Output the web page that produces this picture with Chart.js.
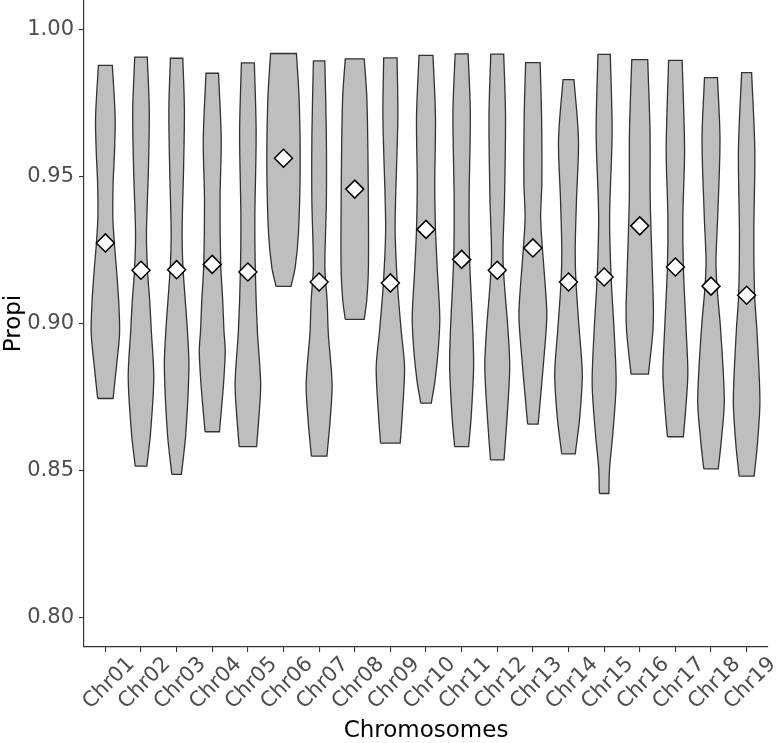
<!DOCTYPE html>
<html>
<head>
<meta charset="utf-8">
<script src="https://cdn.jsdelivr.net/npm/chart.js"></script>
<style>
  html, body { margin: 0; padding: 0; background: #ffffff; }
  #wrap { width: 776px; height: 743px; }
</style>
</head>
<body>
<div id="wrap"><canvas id="violin-chart" width="776" height="743"></canvas></div>
<script>
const chromosomes = ['Chr01', 'Chr02', 'Chr03', 'Chr04', 'Chr05', 'Chr06', 'Chr07', 'Chr08', 'Chr09', 'Chr10',
    'Chr11', 'Chr12', 'Chr13', 'Chr14', 'Chr15', 'Chr16', 'Chr17', 'Chr18', 'Chr19'];

// mean Propi per chromosome (the white diamonds)
const meanValues = [0.9274, 0.9181, 0.9183, 0.9201, 0.9175, 0.9562, 0.9141, 0.9457, 0.9138, 0.9320,
    0.9218, 0.9181, 0.9257, 0.9141, 0.9158, 0.9332, 0.9192, 0.9127, 0.9096];

// Propi levels, from its top (max) down to its bottom (min)
const violinLevels = [
    [0.9878, 0.9703, 0.9590, 0.9478, 0.9362, 0.9273, 0.9191, 0.9078, 0.8966, 0.8850, 0.8745],
    [0.9906, 0.9727, 0.9532, 0.9307, 0.9181, 0.9078, 0.8976, 0.8816, 0.8625, 0.8515],
    [0.9902, 0.9727, 0.9532, 0.9307, 0.9184, 0.8976, 0.8850, 0.8625, 0.8487],
    [0.9851, 0.9625, 0.9420, 0.9201, 0.9078, 0.8976, 0.8908, 0.8795, 0.8632],
    [0.9886, 0.9648, 0.9362, 0.9175, 0.8976, 0.8795, 0.8679, 0.8581],
    [0.9918, 0.9761, 0.9532, 0.9307, 0.9191, 0.9126],
    [0.9893, 0.9648, 0.9420, 0.9191, 0.9078, 0.8966, 0.8795, 0.8669, 0.8549],
    [0.9900, 0.9761, 0.9478, 0.9191, 0.9078, 0.9014],
    [0.9903, 0.9703, 0.9420, 0.9307, 0.9138, 0.8976, 0.8850, 0.8679, 0.8593],
    [0.9912, 0.9703, 0.9478, 0.9321, 0.9191, 0.9020, 0.8908, 0.8805, 0.8729],
    [0.9917, 0.9717, 0.9420, 0.9218, 0.8976, 0.8850, 0.8679, 0.8581],
    [0.9916, 0.9703, 0.9420, 0.9215, 0.8976, 0.8850, 0.8679, 0.8536],
    [0.9887, 0.9703, 0.9478, 0.9362, 0.9257, 0.9137, 0.9027, 0.8908, 0.8658],
    [0.9829, 0.9625, 0.9420, 0.9249, 0.9140, 0.8976, 0.8829, 0.8679, 0.8557],
    [0.9915, 0.9648, 0.9362, 0.9157, 0.8976, 0.8795, 0.8625, 0.8509, 0.8422],
    [0.9897, 0.9648, 0.9420, 0.9137, 0.9044, 0.8966, 0.8828],
    [0.9895, 0.9590, 0.9362, 0.9192, 0.8976, 0.8829, 0.8703, 0.8615],
    [0.9836, 0.9625, 0.9362, 0.9215, 0.9126, 0.8976, 0.8737, 0.8601, 0.8506],
    [0.9853, 0.9590, 0.9307, 0.9096, 0.8976, 0.8737, 0.8590, 0.8481]
];

// half width of the violin at each level, in category units (density)
const violinWidths = [
    [0.196, 0.275, 0.258, 0.218, 0.210, 0.252, 0.308, 0.373, 0.398, 0.308, 0.216],
    [0.176, 0.232, 0.210, 0.154, 0.182, 0.244, 0.289, 0.359, 0.266, 0.162],
    [0.174, 0.218, 0.196, 0.154, 0.182, 0.303, 0.345, 0.258, 0.134],
    [0.176, 0.252, 0.218, 0.238, 0.294, 0.328, 0.364, 0.317, 0.202],
    [0.182, 0.232, 0.196, 0.210, 0.266, 0.359, 0.308, 0.244],
    [0.364, 0.440, 0.468, 0.420, 0.328, 0.210],
    [0.160, 0.202, 0.204, 0.162, 0.224, 0.258, 0.364, 0.308, 0.218],
    [0.266, 0.342, 0.378, 0.384, 0.336, 0.266],
    [0.188, 0.210, 0.146, 0.134, 0.196, 0.303, 0.398, 0.328, 0.275],
    [0.196, 0.266, 0.246, 0.266, 0.314, 0.387, 0.342, 0.252, 0.148],
    [0.182, 0.244, 0.210, 0.224, 0.314, 0.336, 0.266, 0.196],
    [0.182, 0.232, 0.204, 0.162, 0.303, 0.350, 0.275, 0.190],
    [0.204, 0.244, 0.252, 0.218, 0.266, 0.342, 0.392, 0.328, 0.148],
    [0.154, 0.280, 0.224, 0.188, 0.210, 0.303, 0.387, 0.314, 0.190],
    [0.174, 0.224, 0.154, 0.196, 0.280, 0.336, 0.244, 0.154, 0.132],
    [0.224, 0.289, 0.294, 0.364, 0.384, 0.364, 0.244],
    [0.190, 0.258, 0.210, 0.224, 0.303, 0.350, 0.286, 0.224],
    [0.182, 0.252, 0.188, 0.140, 0.168, 0.272, 0.373, 0.289, 0.204],
    [0.140, 0.230, 0.202, 0.224, 0.289, 0.373, 0.303, 0.210]
];

const yTicks = [0.80, 0.85, 0.90, 0.95, 1.00];

const FONT = "'DejaVu Sans', 'Liberation Sans', sans-serif";

// outline of one violin: left side bottom->top, then right side top->bottom, closed.
// the flat top/bottom corners are repeated so the spline keeps them sharp
function violinOutline(i) {
    const pos = i + 1;
    const lv = violinLevels[i];
    const hw = violinWidths[i];
    const n = lv.length;
    const left = [];
    const right = [];
    for (let k = n - 1; k >= 0; k--) left.push({ x: pos - hw[k], y: lv[k] });
    for (let k = 0; k < n; k++) right.push({ x: pos + hw[k], y: lv[k] });
    return [...left, left[n - 1], right[0], ...right, right[n - 1], left[0]];
}

const violinSets = chromosomes.map((name, i) => ({
    label: name,
    data: violinOutline(i),
    showLine: true,
    fill: 'shape',
    backgroundColor: '#bebebe',
    borderColor: '#333333',
    borderWidth: 1.3,
    tension: 0.3,
    pointRadius: 0,
    pointHoverRadius: 0,
    order: 2
}));

const meanSet = {
    label: 'mean',
    data: meanValues.map((v, i) => ({ x: i + 1, y: v })),
    showLine: false,
    pointStyle: 'rectRot',
    pointRadius: 9,
    pointBackgroundColor: '#ffffff',
    pointBorderColor: '#000000',
    pointBorderWidth: 1.5,
    order: 1
};

new Chart(document.getElementById('violin-chart'), {
    type: 'line',
    data: { datasets: [meanSet, ...violinSets] },
    options: {
        responsive: false,
        animation: false,
        devicePixelRatio: 1,
        layout: { autoPadding: false, padding: { top: 0, right: 8, bottom: 0, left: 0 } },
        plugins: {
            legend: { display: false },
            tooltip: { enabled: false }
        },
        scales: {
            x: {
                type: 'linear',
                min: 0.4,
                max: 19.6,
                afterBuildTicks: axis => { axis.ticks = chromosomes.map((c, i) => ({ value: i + 1 })); },
                afterFit: axis => { axis.height = 96; axis.paddingLeft = 0; axis.paddingRight = 0; },
                ticks: {
                    autoSkip: false,
                    minRotation: 45,
                    maxRotation: 45,
                    labelOffset: 26,
                    padding: 0,
                    color: '#4d4d4d',
                    font: { family: FONT, size: 21 },
                    callback: value => chromosomes[Math.round(value) - 1]
                },
                grid: { drawOnChartArea: false, drawTicks: true, tickLength: 5, color: '#333333', lineWidth: 1.1 },
                border: { color: '#333333', width: 1.2 },
                title: {
                    display: true,
                    text: 'Chromosomes',
                    color: '#000000',
                    font: { family: FONT, size: 23, lineHeight: 1.0 },
                    padding: { top: 0, bottom: 0 }
                }
            },
            y: {
                min: 0.79,
                max: 1.01,
                afterBuildTicks: axis => { axis.ticks = yTicks.map(v => ({ value: v })); },
                afterFit: axis => { axis.width = 84; axis.paddingTop = 0; axis.paddingBottom = 0; },
                ticks: {
                    padding: 5,
                    color: '#4d4d4d',
                    font: { family: FONT, size: 21 },
                    callback: value => value.toFixed(2)
                },
                grid: { drawOnChartArea: false, drawTicks: true, tickLength: 5, color: '#333333', lineWidth: 1.1 },
                border: { color: '#333333', width: 1.2 },
                title: {
                    display: true,
                    text: 'Propi',
                    color: '#000000',
                    font: { family: FONT, size: 23 },
                    padding: { top: 0, bottom: 0 }
                }
            }
        }
    }
});
</script>
</body>
</html>
